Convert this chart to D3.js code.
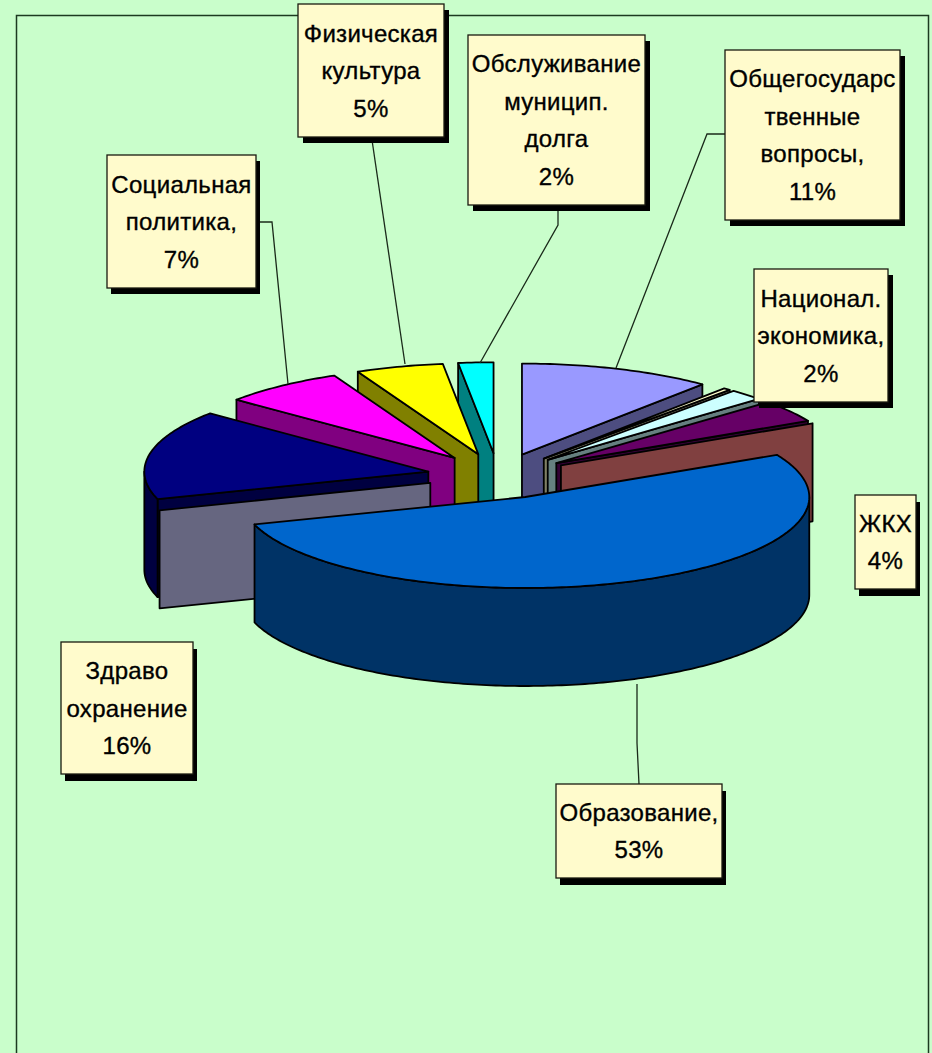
<!DOCTYPE html>
<html>
<head>
<meta charset="utf-8">
<script src="https://cdnjs.cloudflare.com/ajax/libs/d3/7.8.5/d3.min.js"></script>
<style>
  html, body { margin: 0; padding: 0; background: #c9fecb; overflow: hidden; }
  svg { display: block; }
  text { font-family: "Liberation Sans", Arial, sans-serif; font-size: 24px; letter-spacing: 0.3px; fill: #000; stroke: #000; stroke-width: 0.35px; }
</style>
</head>
<body>
<svg id="chart" width="932" height="1053"></svg>
<script>
// share of each slice, clockwise from 12 o'clock. the 0 slices only show a wall
var categories = ["Общегосударственные вопросы", "узкий сектор", "Национал. экономика", "ЖКХ", "пустой 1", "Образование", "пустой 2", "Здравоохранение", "Социальная политика", "Физическая культура", "Обслуживание муниципального долга"];
var values = [11, 0.4, 2, 4, 0, 53, 0, 16, 7, 5, 2];
var sliceColors = ["#9999ff", "#ffffcc", "#ccffff", "#660066", "#ff8080", "#0066cc", "#ccccff", "#000080", "#ff00ff", "#ffff00", "#00ffff"];

var labelLines = [
  ["Физическая", "культура", "5%"],
  ["Обслуживание", "муницип.", "долга", "2%"],
  ["Общегосударс", "твенные", "вопросы,", "11%"],
  ["Социальная", "политика,", "7%"],
  ["Национал.", "экономика,", "2%"],
  ["ЖКХ", "4%"],
  ["Здраво", "охранение", "16%"],
  ["Образование,", "53%"]
];

var width = 932;
var height = 1053;

// pie projection
var cx = 498, cy = 476;
var rx = 284, ry = 91;
var explode = 0.25;
var depth = 98;

var svg = d3.select("#chart");

svg.append("path")
  .attr("d", "M16.5," + height + "V15.5H928.5V" + height)
  .attr("fill", "none")
  .attr("stroke", "#1c3a20")
  .attr("stroke-width", 1.5);

var pie = d3.pie().sort(null).value(function (d) { return d; });
var arcs = pie(values).map(function (d, i) {
  var mid = (d.startAngle + d.endAngle) / 2;
  return {
    a: d.startAngle,
    b: d.endAngle,
    mid: mid,
    color: sliceColors[i],
    ox: cx + explode * rx * Math.sin(mid),
    oy: cy - explode * ry * Math.cos(mid)
  };
});

function halfColor(c) {
  var rgb = d3.rgb(c);
  return d3.rgb(rgb.r / 2, rgb.g / 2, rgb.b / 2).formatHex();
}

function rim(s, t, dz) {
  return [s.ox + rx * Math.sin(t), s.oy - ry * Math.cos(t) + (dz || 0)];
}

function arcPoints(s, a, b, dz) {
  var n = Math.max(2, Math.ceil((b - a) * 60));
  return d3.range(n + 1).map(function (k) {
    return rim(s, a + (b - a) * k / n, dz);
  });
}

var line = d3.line().curve(d3.curveLinearClosed);

function drawFace(points, fill) {
  svg.append("path")
    .attr("d", line(points))
    .attr("fill", fill)
    .attr("stroke", "#000")
    .attr("stroke-width", 1.8)
    .attr("stroke-linejoin", "round");
}

function drawWall(s, t) {
  var p = rim(s, t);
  drawFace([[s.ox, s.oy], p, [p[0], p[1] + depth], [s.ox, s.oy + depth]], halfColor(s.color));
}

// back slices first, the big front one last
arcs.slice().sort(function (p, q) { return Math.cos(q.mid) - Math.cos(p.mid); }).forEach(function (s) {
  if (Math.sin(s.a) < -1e-6) drawWall(s, s.a);
  if (Math.sin(s.b) > 1e-6) drawWall(s, s.b);
  var from = Math.max(s.a, Math.PI / 2);
  var to = Math.min(s.b, 3 * Math.PI / 2);
  if (to > from) {
    drawFace(arcPoints(s, from, to).concat(arcPoints(s, from, to, depth).reverse()), halfColor(s.color));
  }
  if (s.b > s.a) {
    drawFace([[s.ox, s.oy]].concat(arcPoints(s, s.a, s.b)), s.color);
  }
});

// leader lines, pixel positions
var leaders = [
  [[372, 140], [405, 364]],
  [[558, 208], [558, 225], [480, 363]],
  [[725, 134], [707, 134], [616, 368]],
  [[259, 222], [272, 222], [288, 384]],
  [[637, 684], [637, 743], [639, 784]]
];
leaders.forEach(function (pts) {
  svg.append("path")
    .attr("d", d3.line()(pts))
    .attr("fill", "none")
    .attr("stroke", "#1a2a1a")
    .attr("stroke-width", 1.3);
});

// label boxes: x, y, w, h, shadow x, shadow y
var boxes = [
  [298, 4, 146, 133, 5, 6],
  [468, 35, 177, 170, 5, 6],
  [725, 50, 175, 170, 5, 6],
  [107, 155, 149, 133, 4, 6],
  [754, 269, 134, 133, 5, 6],
  [855, 495, 61, 94, 4, 7],
  [61, 642, 132, 132, 4, 7],
  [556, 784, 166, 94, 4, 7]
];
var lineHeight = 37.5;

labelLines.forEach(function (lines, i) {
  var b = boxes[i];
  svg.append("rect")
    .attr("x", b[0] + b[4]).attr("y", b[1] + b[5])
    .attr("width", b[2]).attr("height", b[3])
    .attr("fill", "#000");
  svg.append("rect")
    .attr("x", b[0]).attr("y", b[1])
    .attr("width", b[2]).attr("height", b[3])
    .attr("fill", "#fffbcc")
    .attr("stroke", "#1a1a10")
    .attr("stroke-width", 1.3);
  var top = b[1] + b[3] / 2 - (lines.length - 1) * lineHeight / 2;
  lines.forEach(function (txt, k) {
    svg.append("text")
      .attr("x", b[0] + b[2] / 2)
      .attr("y", top + k * lineHeight)
      .attr("dy", "0.36em")
      .attr("text-anchor", "middle")
      .text(txt);
  });
});
</script>
</body>
</html>
